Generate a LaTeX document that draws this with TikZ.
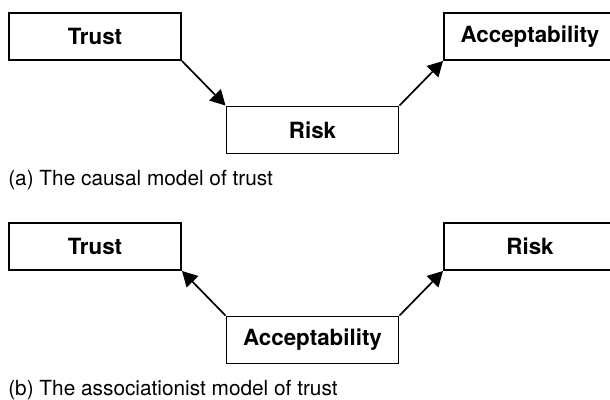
\documentclass[tikz,border=0pt]{standalone}
\usepackage{fontspec}
\setmainfont{TeX Gyre Heros}
\usetikzlibrary{positioning, arrows.meta}

\begin{document}
\begin{tikzpicture}[
    box/.style={draw, rectangle, line width=1.4pt, minimum width=4.3cm, minimum height=1.175cm, align=center, font=\fontsize{15.9}{18}\selectfont\bfseries},
    caption/.style={anchor=west, inner sep=0pt, font=\fontsize{14.8}{18}\selectfont},
    arr/.style={-{Triangle[length=10.7pt, width=11.4pt]}, line width=1.2pt}
]
    \useasboundingbox (0,0) rectangle (15.25,9.975);

    % (a) causal model
    \node[box] (trustA) at (2.375, 9.0625) {Trust};
    \node[box] (riskA) at (7.8125, 6.725) {Risk};
    \node[box] (acceptA) at (13.25, 9.0625) {Acceptability};
    \node[caption] (capA) at (0.2, 5.475) {(a) The causal model of trust};

    \draw[arr] (trustA.south east) -- (riskA.north west);
    \draw[arr] (riskA.north east) -- (acceptA.south west);

    % (b) associationist model
    \node[box] (trustB) at (2.375, 3.8125) {Trust};
    \node[box] (acceptB) at (7.8125, 1.475) {Acceptability};
    \node[box] (riskB) at (13.25, 3.8125) {Risk};
    \node[caption] (capB) at (0.2, 0.225) {(b) The associationist model of trust};

    \draw[arr] (acceptB.north west) -- (trustB.south east);
    \draw[arr] (acceptB.north east) -- (riskB.south west);
\end{tikzpicture}
\end{document}
